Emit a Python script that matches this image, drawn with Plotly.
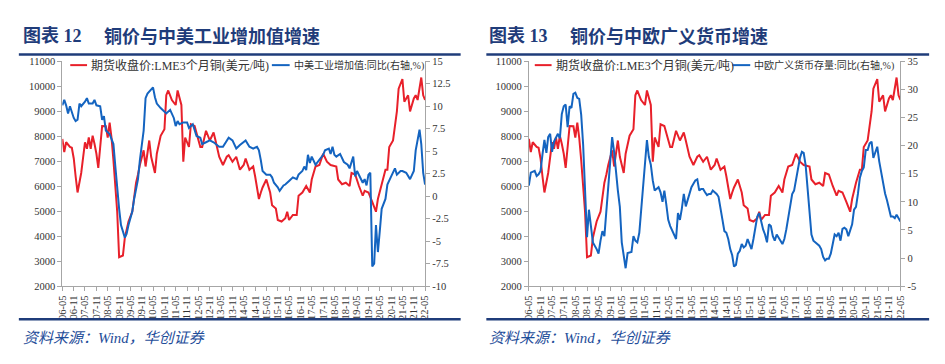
import plotly.graph_objects as go

# ---------------- data ----------------
copper_dates = [
    "2006-05", "2006-06", "2006-07", "2006-09", "2006-10", "2006-11", "2006-12",
    "2007-01", "2007-03", "2007-05", "2007-06", "2007-07", "2007-08", "2007-09", "2007-10", "2007-11", "2007-12",
    "2008-01", "2008-02", "2008-04", "2008-05", "2008-06", "2008-07", "2008-08", "2008-10", "2008-11",
    "2009-01", "2009-02", "2009-04", "2009-06", "2009-08", "2009-09", "2009-10", "2009-12",
    "2010-01", "2010-03", "2010-04", "2010-06", "2010-07", "2010-09", "2010-11", "2010-12",
    "2011-01", "2011-03", "2011-05", "2011-06", "2011-08", "2011-09", "2011-10", "2011-12",
    "2012-01", "2012-03", "2012-05", "2012-06", "2012-07", "2012-09", "2012-11",
    "2013-01", "2013-02", "2013-04", "2013-06", "2013-08", "2013-09", "2013-11",
    "2014-01", "2014-03", "2014-05", "2014-06", "2014-08", "2014-10", "2014-11",
    "2015-01", "2015-02", "2015-03", "2015-05", "2015-07", "2015-08", "2015-10", "2015-11",
    "2016-01", "2016-03", "2016-04", "2016-05", "2016-07", "2016-09", "2016-10", "2016-12",
    "2017-02", "2017-04", "2017-05", "2017-07", "2017-09", "2017-11",
    "2018-01", "2018-03", "2018-06", "2018-07", "2018-09", "2018-11",
    "2019-01", "2019-02", "2019-04", "2019-06", "2019-08", "2019-09", "2019-11",
    "2020-01", "2020-03", "2020-04", "2020-06", "2020-08", "2020-09", "2020-10", "2020-12",
    "2021-02", "2021-03", "2021-05", "2021-06", "2021-08", "2021-09", "2021-11", "2021-12",
    "2022-01", "2022-03", "2022-04", "2022-05",
]
copper_price = [
    7890, 7370, 7760, 7570, 7540, 7110, 6400,
    5750, 6530, 7760, 7500, 7950, 7500, 8020, 7700, 7300, 6730,
    7760, 8410, 8400, 7950, 8540, 7950, 7050, 4980, 3160,
    3230, 3940, 4590, 4980, 6140, 6470, 6850, 7440,
    6790, 7830, 7180, 6530, 7300, 8020, 8280, 9640,
    9830, 9450, 9250, 9830, 9250, 6980, 7950, 7570,
    8480, 8410, 7830, 7570, 7570, 8220, 7830,
    8150, 7830, 7180, 6850, 7180, 7240, 6980,
    7180, 6660, 6850, 7110, 6660, 6790, 6400,
    5490, 5750, 5950, 6270, 5750, 5240, 5110, 4650,
    4590, 4720, 4980, 4650, 4850, 4850, 5620, 5750,
    6010, 5750, 6270, 6790, 6850, 7300,
    6980, 6850, 6790, 6270, 6080, 6140,
    6010, 6530, 6470, 6010, 5620, 5820, 5750,
    5370, 4980, 5490, 6140, 6660, 6660, 7570, 7830,
    8990, 9900, 10290, 9380, 9640, 8990, 9510, 9640,
    9450, 10350, 9640, 9450,
]

ip_dates = [
    "2006-05", "2006-06", "2006-07", "2006-08", "2006-09", "2006-11", "2006-12",
    "2007-01", "2007-02", "2007-03", "2007-05", "2007-06", "2007-07", "2007-09", "2007-10", "2007-11",
    "2008-01", "2008-02", "2008-03", "2008-04", "2008-06", "2008-08", "2008-09", "2008-10", "2008-11", "2008-12",
    "2009-02", "2009-03", "2009-04", "2009-06", "2009-07", "2009-09", "2009-10", "2009-12",
    "2010-01", "2010-02", "2010-04", "2010-05", "2010-06", "2010-07", "2010-09", "2010-11", "2010-12",
    "2011-02", "2011-04", "2011-05", "2011-06", "2011-07", "2011-09", "2011-11", "2011-12",
    "2012-02", "2012-04", "2012-06", "2012-07", "2012-09", "2012-11",
    "2013-01", "2013-02", "2013-04", "2013-06", "2013-08", "2013-09", "2013-11",
    "2014-01", "2014-03", "2014-05", "2014-06", "2014-08", "2014-10", "2014-12",
    "2015-01", "2015-02", "2015-03", "2015-05", "2015-07", "2015-08", "2015-09", "2015-11", "2015-12",
    "2016-02", "2016-03", "2016-05", "2016-07", "2016-09", "2016-10", "2016-12",
    "2017-01", "2017-02", "2017-03", "2017-04", "2017-05", "2017-07", "2017-09", "2017-11", "2017-12",
    "2018-02", "2018-03", "2018-04", "2018-05", "2018-06", "2018-08", "2018-10", "2018-12",
    "2019-01", "2019-03", "2019-04", "2019-05", "2019-07", "2019-08", "2019-09", "2019-10", "2019-11", "2019-12",
    "2020-01", "2020-02", "2020-03", "2020-04", "2020-05", "2020-06", "2020-08", "2020-09", "2020-11",
    "2021-01", "2021-02", "2021-04", "2021-05", "2021-07", "2021-09", "2021-11", "2021-12",
    "2022-01", "2022-02", "2022-03", "2022-04", "2022-05",
]
ip_yoy = [
    10.1, 10.7, 10.1, 9.2, 10.0, 8.7, 8.35,
    8.5, 10.3, 10.0, 10.5, 10.9, 10.3, 10.3, 10.7, 10.1,
    10.0, 8.5, 8.9, 7.3, 6.9, 5.8, 3.3, 0.8, -1.4, -3.2,
    -4.6, -4.2, -3.2, -1.7, -0.3, 1.9, 4.0, 7.3,
    10.9, 11.4, 11.9, 12.1, 11.0, 10.3, 9.8, 9.4, 9.2,
    9.6, 8.7, 7.8, 8.35, 8.0, 8.2, 8.2, 7.6,
    8.0, 6.7, 6.5, 5.8, 6.0, 6.2,
    6.0, 5.8, 5.5, 5.5, 6.2, 6.5, 6.2,
    5.3, 5.7, 6.0, 6.2, 5.5, 5.3, 5.5,
    5.1, 4.0, 2.8, 2.4, 2.4, 2.1, 1.5, 1.0, 0.6,
    1.2, 1.3, 1.7, 2.1, 1.9, 2.4, 2.8,
    3.3, 2.9, 4.6, 3.7, 4.4, 3.5, 4.0, 4.6, 5.1,
    5.3, 4.7, 5.5, 4.6, 4.4, 4.7, 3.8, 3.5,
    3.1, 4.4, 2.2, 2.8, 1.9, 1.5, 1.9, 1.2, 2.4, 2.6,
    -7.8, -7.5, -3.2, -6.2, -3.9, -1.4, -0.3, 1.3, 2.2,
    3.1, 2.4, 2.8, 2.8, 2.6, 1.9, 2.8, 5.1,
    6.2, 7.4, 5.8, 2.6, 1.3,
]

m2_dates = (
    ["2006-05", "2006-06", "2006-08", "2006-09", "2006-10", "2006-11", "2006-12"]
    + ["2007-01", "2007-02", "2007-03", "2007-04", "2007-05", "2007-06", "2007-08", "2007-09", "2007-10", "2007-11", "2007-12"]
    + ["2008-%02d" % m for m in range(1, 13)]
    + ["2009-01", "2009-02", "2009-04", "2009-05", "2009-06", "2009-07", "2009-08", "2009-09", "2009-10", "2009-11", "2009-12"]
    + ["2010-01", "2010-02", "2010-03", "2010-04", "2010-05", "2010-07", "2010-08", "2010-10", "2010-11", "2010-12"]
    + ["2011-01", "2011-02", "2011-03", "2011-04", "2011-05", "2011-06", "2011-07", "2011-08", "2011-09", "2011-10", "2011-12"]
    + ["%d-%02d" % (y, m) for y in range(2012, 2022) for m in range(1, 13)]
    + ["2022-01", "2022-02", "2022-03", "2022-04", "2022-05"]
)
m2_yoy = [
    12.9, 15.2, 15.5, 14.6, 14.9, 15.5, 18.4,
    21.0, 18.7, 21.5, 22.1, 18.9, 20.7, 22.1, 21.3, 25.6, 27.0, 27.3,
    23.3, 27.0, 26.7, 29.2, 29.4, 28.5, 28.3, 25.5, 20.1, 13.2, 3.7, 8.6,
    5.7, 2.8, 1.6, 0.8, 3.1, 4.8, 3.9, 8.6, 13.2, 17.8, 21.5,
    18.9, 14.5, 12.0, 9.1, 2.8, -1.8, 0.9, 1.1, 3.9, 3.1,
    2.8, 4.5, 8.6, 12.6, 16.6, 21.0, 18.0, 16.6, 13.8, 12.0, 12.6,
    11.7, 10.0, 12.0, 9.5, 6.8, 5.7, 5.0, 4.0, 3.4, 8.0, 6.8, 8.8,
    11.4, 9.2, 10.3, 11.4, 12.6, 13.2, 13.8, 14.0, 12.0, 12.3, 12.3, 11.7,
    11.2, 11.4, 11.4, 12.0, 11.7, 11.4, 10.9, 9.1, 6.8, 4.8, 4.5, 3.4,
    1.6, 0.5, -1.5, -1.2, 0.8, 1.3, 2.5, 1.9, 2.2, 3.4, 2.5, 1.6,
    3.4, 5.4, 7.4, 8.0, 6.3, 5.1, 4.2, 2.8, 6.0, 5.7, 3.9, 3.1,
    4.2, 3.7, 3.1, 2.5, 3.4, 5.1, 7.4, 9.1, 11.4, 12.0, 14.0, 15.8,
    17.8, 18.9, 18.7, 16.5, 12.6, 8.0, 4.2, 3.1, 2.8, 2.5, 2.2, 1.6,
    0.2, -0.4, -0.1, -0.1, 0.8, 2.5, 4.2, 3.9, 4.5, 3.1, 5.2, 5.4,
    5.1, 3.9, 5.1, 6.0, 8.6, 9.1, 11.4, 14.3, 15.5, 16.1, 19.2, 19.2,
    20.4, 20.7, 17.8, 18.9, 19.8, 17.2, 15.2, 13.2, 11.5, 10.3, 8.6, 7.4,
    7.4, 7.1, 7.7, 7.0, 6.5,
]

left_ticks = [2000, 3000, 4000, 5000, 6000, 7000, 8000, 9000, 10000, 11000]
ip_ticks = [-10, -7.5, -5, -2.5, 0, 2.5, 5, 7.5, 10, 12.5, 15]
ip_tick_text = ["-10", "-7.5", "-5", "-2.5", "0", "2.5", "5", "7.5", "10", "12.5", "15"]
m2_ticks = [-5, 0, 5, 10, 15, 20, 25, 30, 35]
m2_tick_text = ["-5", "0", "5", "10", "15", "20", "25", "30", "35"]

titles = [("图表 12", "铜价与中美工业增加值增速"), ("图表 13", "铜价与中欧广义货币增速")]
name_copper = "期货收盘价:LME3个月铜(美元/吨)"
name_ip = "中美工业增加值:同比(右轴,%)"
name_m2 = "中欧广义货币存量:同比(右轴,%)"
source = "资料来源：Wind，华创证券"

# ---------------- style ----------------
RED = "#E8202A"
BLUE = "#1464C0"
NAVY = "#1F3C7A"
SRC = "#1F4E9A"
AXIS = "#A6A6A6"
TXT = "#333333"
SERIF = "Liberation Serif, 'Noto Sans CJK SC', serif"
W, H = 945, 364


def px(x):
    return x / W


def py(y):
    return 1 - y / H


fig = go.Figure()
fig.add_trace(go.Scatter(x=copper_dates, y=copper_price, xaxis="x", yaxis="y", mode="lines",
                         line=dict(color=RED, width=2), name=name_copper, showlegend=False))
fig.add_trace(go.Scatter(x=ip_dates, y=ip_yoy, xaxis="x", yaxis="y2", mode="lines",
                         line=dict(color=BLUE, width=2), name=name_ip, showlegend=False))
fig.add_trace(go.Scatter(x=copper_dates, y=copper_price, xaxis="x2", yaxis="y3", mode="lines",
                         line=dict(color=RED, width=2), name=name_copper, showlegend=False))
fig.add_trace(go.Scatter(x=m2_dates, y=m2_yoy, xaxis="x2", yaxis="y4", mode="lines",
                         line=dict(color=BLUE, width=2), name=name_m2, showlegend=False))

ydom = [py(290), py(58)]
tickfont = dict(family=SERIF, size=10.5, color=TXT)
xcommon = dict(type="date", range=["2006-05-01", "2022-05-01"], tick0="2006-05-01", dtick="M6",
               tickformat="%y-%m", tickangle=-90, ticks="outside", ticklen=4, tickcolor=AXIS,
               showline=True, linecolor=AXIS, linewidth=1, showgrid=False, zeroline=False,
               tickfont=tickfont)
ycommon = dict(ticks="outside", ticklen=4, tickcolor=AXIS, showline=True, linecolor=AXIS,
               linewidth=1, showgrid=False, zeroline=False, tickfont=tickfont, domain=ydom)

fig.update_layout(
    width=W, height=H, autosize=False,
    margin=dict(l=0, r=0, t=0, b=0),
    paper_bgcolor="white", plot_bgcolor="white",
    xaxis=dict(domain=[px(57), px(424)], anchor="y", **xcommon),
    xaxis2=dict(domain=[px(529), px(905)], anchor="y3", **xcommon),
    yaxis=dict(anchor="x", range=[2000, 11000], tickvals=left_ticks, tickformat="d", **ycommon),
    yaxis2=dict(anchor="x", overlaying="y", side="right", range=[-10, 15],
                tickvals=ip_ticks, ticktext=ip_tick_text, **ycommon),
    yaxis3=dict(anchor="x2", range=[2000, 11000], tickvals=left_ticks, tickformat="d", **ycommon),
    yaxis4=dict(anchor="x2", overlaying="y3", side="right", range=[-5, 35],
                tickvals=m2_ticks, ticktext=m2_tick_text, **ycommon),
)

shapes = []
annotations = []
# rules
for x0, x1 in [(13, 460), (486, 934)]:
    for yy in (51, 324):
        shapes.append(dict(type="line", xref="paper", yref="paper", x0=px(x0), x1=px(x1),
                           y0=py(yy), y1=py(yy), line=dict(color=NAVY, width=2.5)))

# titles and sources
for (lab, txt), x_lab, x_txt, x_src in [(titles[0], 15, 97, 15), (titles[1], 487, 569, 487)]:
    annotations.append(dict(text="<b>%s</b>" % lab, x=px(x_lab), y=py(32), xref="paper", yref="paper",
                            xanchor="left", yanchor="middle", showarrow=False,
                            font=dict(family=SERIF, size=18, color=NAVY)))
    annotations.append(dict(text="<b>%s</b>" % txt, x=px(x_txt), y=py(32), xref="paper", yref="paper",
                            xanchor="left", yanchor="middle", showarrow=False,
                            font=dict(family=SERIF, size=18, color=NAVY)))
    annotations.append(dict(text="<i>%s</i>" % source, x=px(x_src), y=py(343), xref="paper", yref="paper",
                            xanchor="left", yanchor="middle", showarrow=False,
                            font=dict(family=SERIF, size=15, color=SRC)))

# legends
legend_items = [
    (65, 82, RED, name_copper, 12),
    (269, 287, BLUE, name_ip, 10),
    (535, 552, RED, name_copper, 12),
    (735, 753, BLUE, name_m2, 10),
]
for x0, x1, col, txt, fs in legend_items:
    shapes.append(dict(type="line", xref="paper", yref="paper", x0=px(x0), x1=px(x1),
                       y0=py(62), y1=py(62), line=dict(color=col, width=2)))
    annotations.append(dict(text=txt, x=px(x1 + 2), y=py(62), xref="paper", yref="paper",
                            xanchor="left", yanchor="middle", showarrow=False,
                            font=dict(family=SERIF, size=fs, color=TXT)))

fig.update_layout(shapes=shapes, annotations=annotations)
fig.write_html("out.html", config={"displayModeBar": False},
               post_script="document.body.style.margin='0';document.body.style.overflow='hidden';")
